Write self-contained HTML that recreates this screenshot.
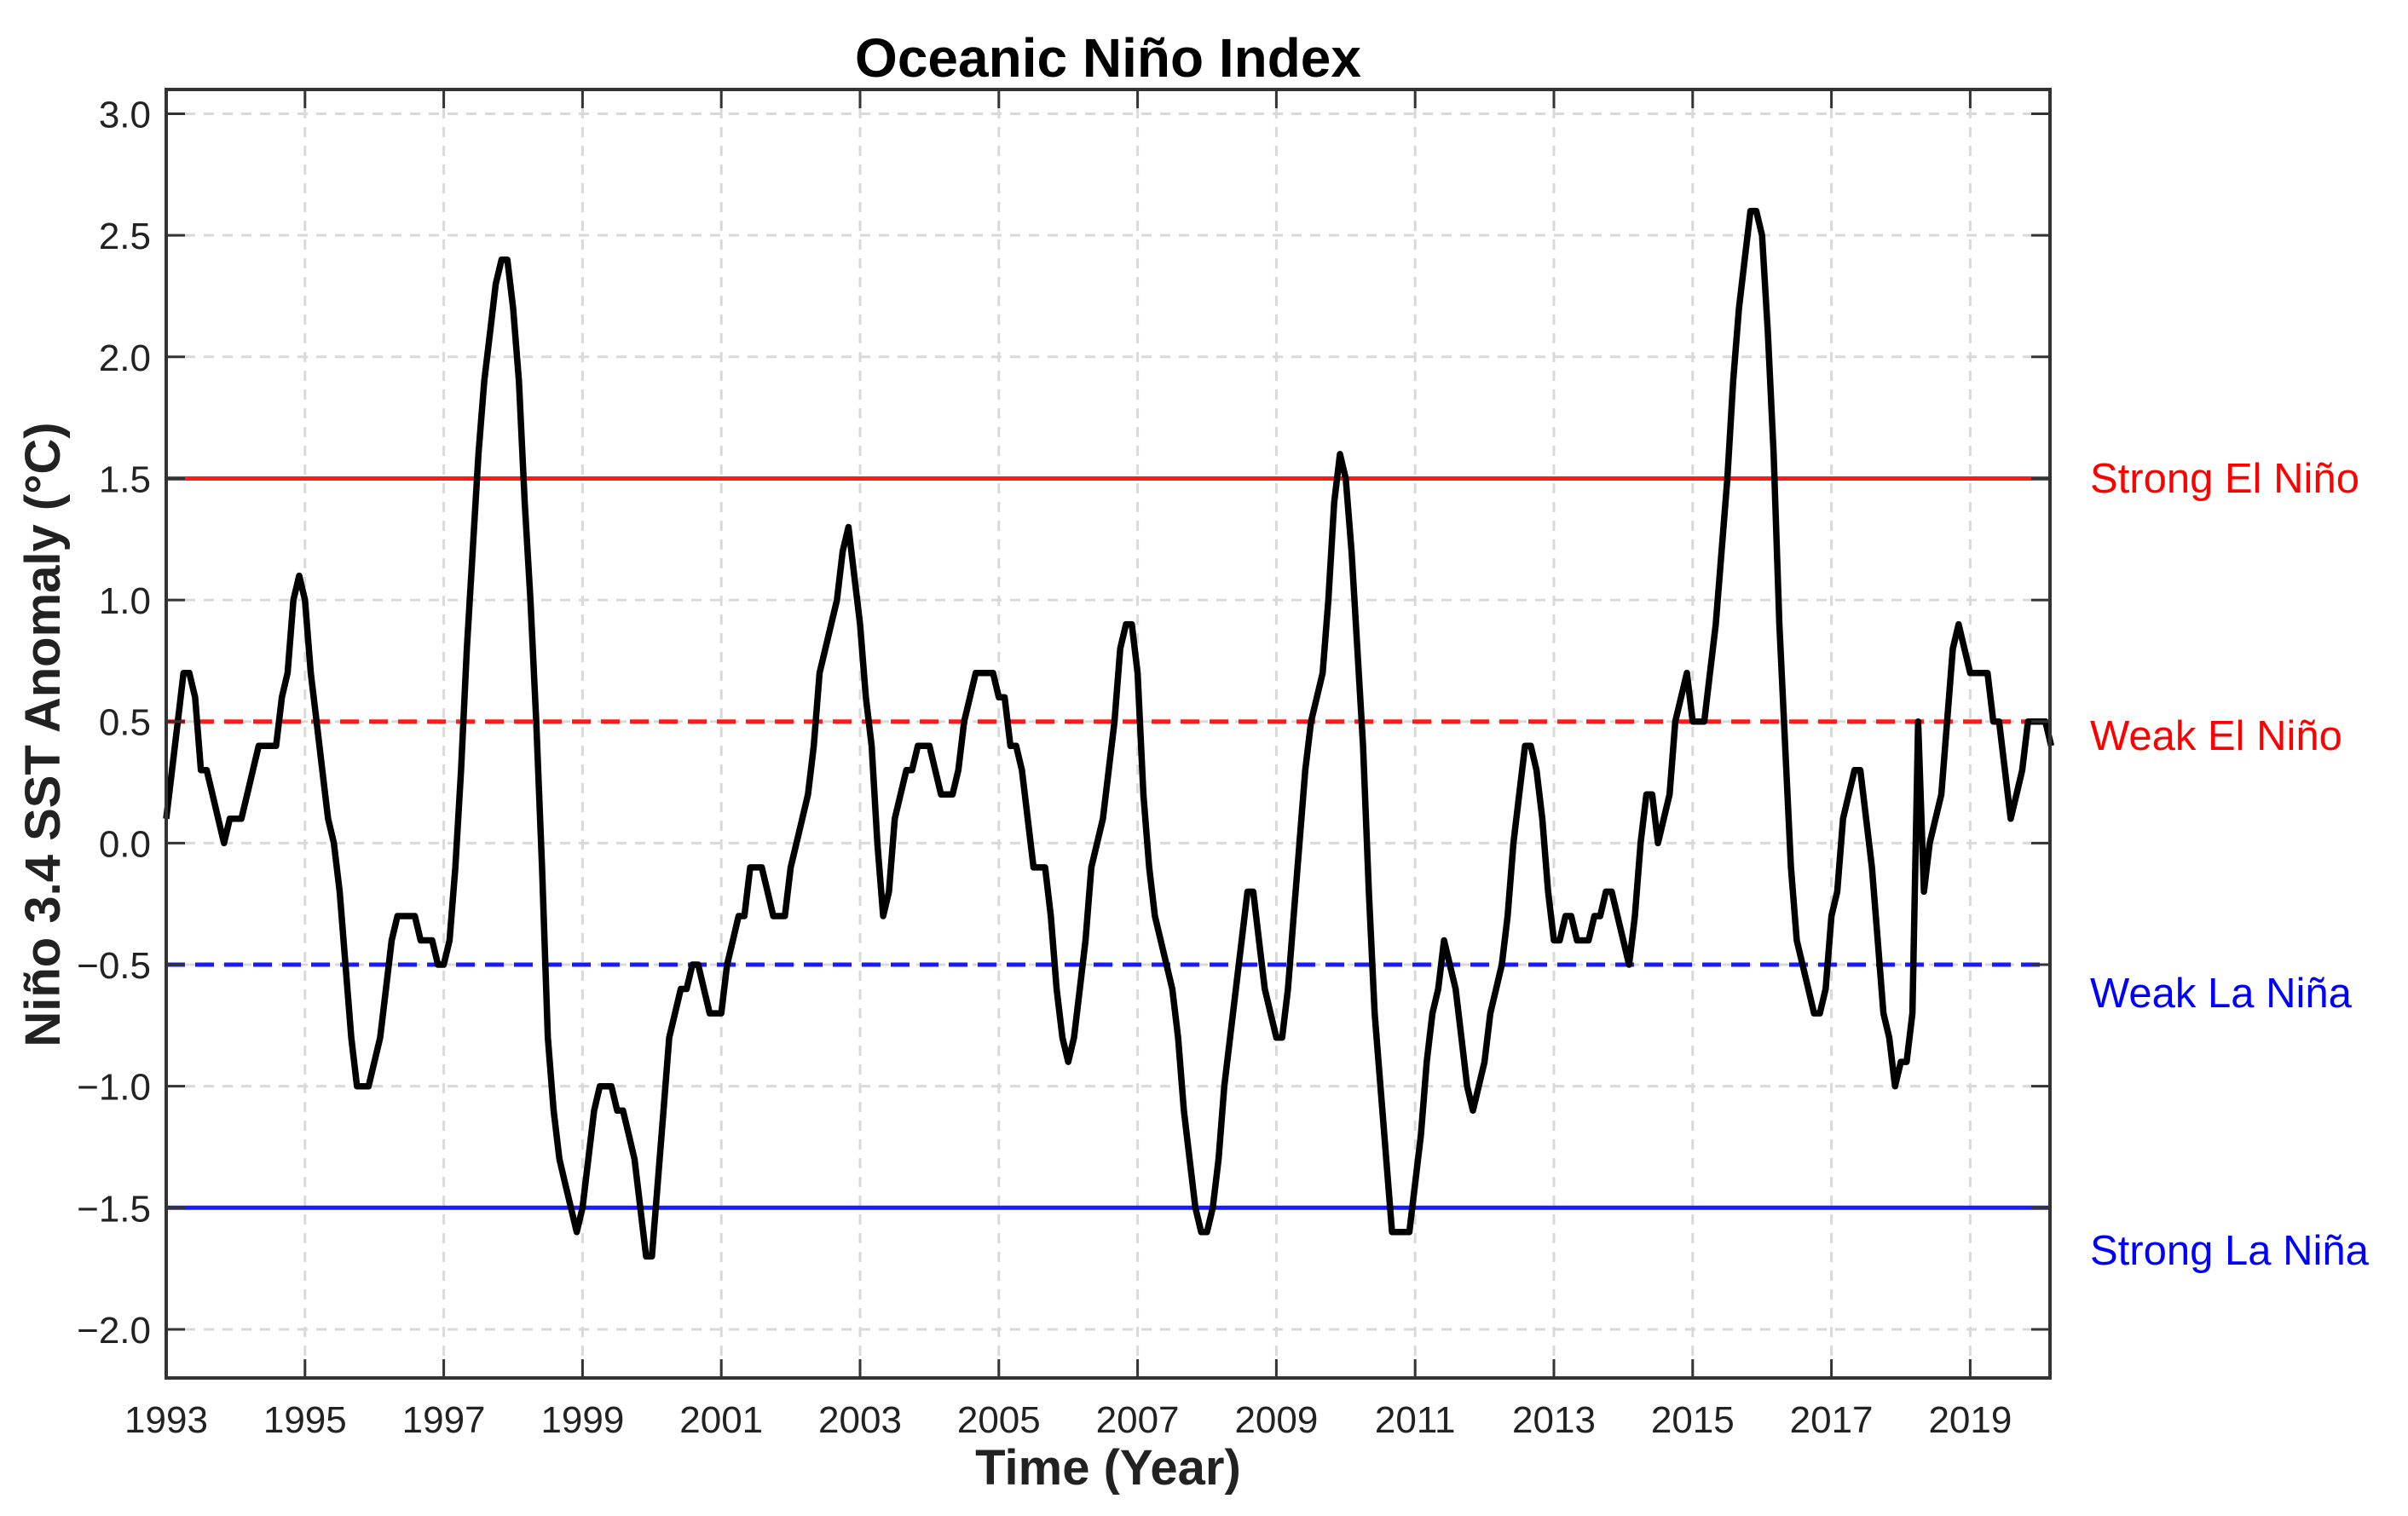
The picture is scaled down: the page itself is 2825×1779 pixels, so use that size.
<!DOCTYPE html>
<html><head><meta charset="utf-8"><style>
html,body{margin:0;padding:0;background:#fff;}
svg{display:block;font-family:"Liberation Sans",Arial,sans-serif;}
</style></head><body>
<svg id="chart" width="2825" height="1779" viewBox="0 0 2825 1779" xmlns="http://www.w3.org/2000/svg">
<text x="1300" y="90" text-anchor="middle" font-size="64" font-weight="bold" fill="#000">Oceanic Niño Index</text>
<text x="1300" y="1742" text-anchor="middle" font-size="58" font-weight="bold" fill="#222">Time (Year)</text>
<text x="0" y="0" transform="translate(70,862) rotate(-90)" text-anchor="middle" font-size="58" font-weight="bold" fill="#222">Niño 3.4 SST Anomaly (°C)</text>
<g id="grid"></g>
<g id="thresholds"></g>
<g id="series"></g>
<g id="axes"></g>
<g id="labels"></g>
</svg>
<script>
const xTicks = [1993,1995,1997,1999,2001,2003,2005,2007,2009,2011,2013,2015,2017,2019];
const yTicks = [-2.0,-1.5,-1.0,-0.5,0.0,0.5,1.0,1.5,2.0,2.5,3.0];
const startYear = 1993;
const oniValues = [
0.1,0.3,0.5,0.7,0.7,0.6,0.3,0.3,0.2,0.1,0.0,0.1,
0.1,0.1,0.2,0.3,0.4,0.4,0.4,0.4,0.6,0.7,1.0,1.1,
1.0,0.7,0.5,0.3,0.1,0.0,-0.2,-0.5,-0.8,-1.0,-1.0,-1.0,
-0.9,-0.8,-0.6,-0.4,-0.3,-0.3,-0.3,-0.3,-0.4,-0.4,-0.4,-0.5,
-0.5,-0.4,-0.1,0.3,0.8,1.2,1.6,1.9,2.1,2.3,2.4,2.4,
2.2,1.9,1.4,1.0,0.5,-0.1,-0.8,-1.1,-1.3,-1.4,-1.5,-1.6,
-1.5,-1.3,-1.1,-1.0,-1.0,-1.0,-1.1,-1.1,-1.2,-1.3,-1.5,-1.7,
-1.7,-1.4,-1.1,-0.8,-0.7,-0.6,-0.6,-0.5,-0.5,-0.6,-0.7,-0.7,
-0.7,-0.5,-0.4,-0.3,-0.3,-0.1,-0.1,-0.1,-0.2,-0.3,-0.3,-0.3,
-0.1,0.0,0.1,0.2,0.4,0.7,0.8,0.9,1.0,1.2,1.3,1.1,
0.9,0.6,0.4,0.0,-0.3,-0.2,0.1,0.2,0.3,0.3,0.4,0.4,
0.4,0.3,0.2,0.2,0.2,0.3,0.5,0.6,0.7,0.7,0.7,0.7,
0.6,0.6,0.4,0.4,0.3,0.1,-0.1,-0.1,-0.1,-0.3,-0.6,-0.8,
-0.9,-0.8,-0.6,-0.4,-0.1,0.0,0.1,0.3,0.5,0.8,0.9,0.9,
0.7,0.2,-0.1,-0.3,-0.4,-0.5,-0.6,-0.8,-1.1,-1.3,-1.5,-1.6,
-1.6,-1.5,-1.3,-1.0,-0.8,-0.6,-0.4,-0.2,-0.2,-0.4,-0.6,-0.7,
-0.8,-0.8,-0.6,-0.3,0.0,0.3,0.5,0.6,0.7,1.0,1.4,1.6,
1.5,1.2,0.8,0.4,-0.2,-0.7,-1.0,-1.3,-1.6,-1.6,-1.6,-1.6,
-1.4,-1.2,-0.9,-0.7,-0.6,-0.4,-0.5,-0.6,-0.8,-1.0,-1.1,-1.0,
-0.9,-0.7,-0.6,-0.5,-0.3,0.0,0.2,0.4,0.4,0.3,0.1,-0.2,
-0.4,-0.4,-0.3,-0.3,-0.4,-0.4,-0.4,-0.3,-0.3,-0.2,-0.2,-0.3,
-0.4,-0.5,-0.3,0.0,0.2,0.2,0.0,0.1,0.2,0.5,0.6,0.7,
0.5,0.5,0.5,0.7,0.9,1.2,1.5,1.9,2.2,2.4,2.6,2.6,
2.5,2.1,1.6,0.9,0.4,-0.1,-0.4,-0.5,-0.6,-0.7,-0.7,-0.6,
-0.3,-0.2,0.1,0.2,0.3,0.3,0.1,-0.1,-0.4,-0.7,-0.8,-1.0,
-0.9,-0.9,-0.7,0.5,-0.2,0.0,0.1,0.2,0.5,0.8,0.9,0.8,
0.7,0.7,0.7,0.7,0.5,0.5,0.3,0.1,0.2,0.3,0.5,0.5,
0.5,0.5,0.4];
const thresholdValues = [1.5,0.5,-0.5,-1.5];
const thresholdNames = ["Strong El Niño","Weak El Niño","Weak La Niña","Strong La Niña"];
const thresholdColors = ["#ff1a1a","#ff1a1a","#1a1aff","#1a1aff"];
const thresholdDashed = [false,true,true,false];
const labelColors = ["#ff0000","#ff0000","#0000ff","#0000ff"];

const L=195,R=2405,T=105,B=1617;
const xMin=1993, xMax=2020.15, yMin=-2.2, yMax=3.1;
const X=v=>L+(v-xMin)/(xMax-xMin)*(R-L);
const Y=v=>T+(yMax-v)/(yMax-yMin)*(B-T);
const NS="http://www.w3.org/2000/svg";
function mk(tag,attrs,parent){const e=document.createElementNS(NS,tag);for(const k in attrs)e.setAttribute(k,attrs[k]);parent.appendChild(e);return e;}
const grid=document.getElementById('grid'),axes=document.getElementById('axes'),thr=document.getElementById('thresholds'),ser=document.getElementById('series'),lab=document.getElementById('labels');

xTicks.forEach(t=>{
  const x=X(t);
  const g=mk('line',{x1:x,x2:x,y1:T,y2:B,stroke:'#d9d9d9','stroke-width':3,'stroke-dasharray':'12 10'},grid);
  
  
  const tk=mk('path',{d:`M${x} ${B}V${B-22}M${x} ${T}V${T+22}`,stroke:'#333','stroke-width':3},axes);
  
  
  const tx=mk('text',{x:x,y:B+64,'text-anchor':'middle','font-size':44,fill:'#222'},axes);
  tx.textContent=String(t);
  
  
});
yTicks.forEach(t=>{
  const y=Y(t);
  const g=mk('line',{x1:L,x2:R,y1:y,y2:y,stroke:'#d9d9d9','stroke-width':3,'stroke-dasharray':'12 10'},grid);
  
  
  const tk=mk('path',{d:`M${L} ${y}H${L+22}M${R} ${y}H${R-22}`,stroke:'#333','stroke-width':3},axes);
  
  
  const tx=mk('text',{x:L-18,y:y+16,'text-anchor':'end','font-size':44,fill:'#222'},axes);
  tx.textContent=(t<0?'\u2212':'')+Math.abs(t).toFixed(1);
  
  
});
thresholdValues.forEach((v,i)=>{
  const y=Y(v);
  const a={x1:L,x2:R,y1:y,y2:y,stroke:thresholdColors[i],'stroke-width':5};
  if(thresholdDashed[i])a['stroke-dasharray']='22 12';
  const l=mk('line',a,thr);
  
  
});
const yLab=[578,880,1182,1484];
thresholdNames.forEach((n,i)=>{
  const t=mk('text',{x:2452,y:yLab[i],'font-size':49,fill:labelColors[i]},lab);
  t.textContent=n;
  
  
});
let d='';
oniValues.forEach((v,i)=>{d+=(i?'L':'M')+X(startYear+i/12).toFixed(1)+' '+Y(v).toFixed(1);});
const p=mk('path',{d:d,fill:'none',stroke:'#000','stroke-width':7.5,'stroke-linejoin':'round'},ser);


const fr=mk('rect',{x:L,y:T,width:R-L,height:B-T,fill:'none',stroke:'#333','stroke-width':4},axes);


</script>
</body></html>
